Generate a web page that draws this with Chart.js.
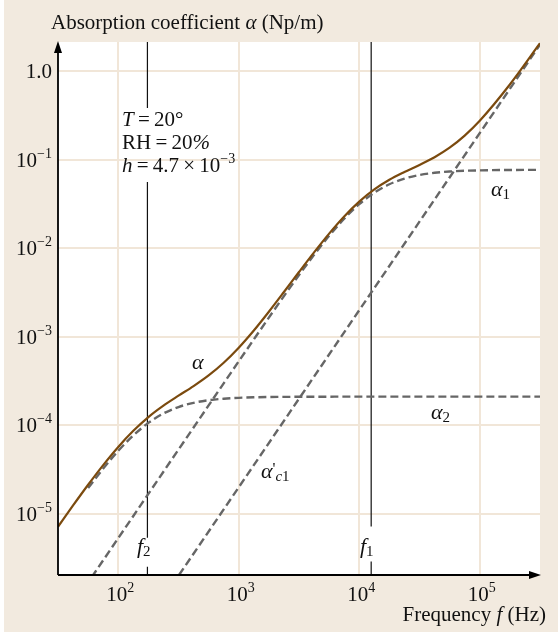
<!DOCTYPE html>
<html><head><meta charset="utf-8">
<script src="https://cdn.jsdelivr.net/npm/chart.js@4.4.0/dist/chart.umd.min.js"></script>
<style>
html,body{margin:0;padding:0;background:#fff;overflow:hidden;}
canvas{display:block;}
</style></head><body>
<canvas id="c" width="558" height="633" style="width:558px;height:633px"></canvas>
<script>
// ---- data ----
const freqHz = [31.62, 42.17, 56.23, 74.99, 100, 133.4, 177.8, 237.1, 316.2, 421.7, 562.3, 749.9,
  1000, 1334, 1778, 2371, 3162, 4217, 5623, 7499, 10000, 13340, 17780, 23710, 31620, 42170,
  56230, 74990, 100000, 177800, 316200];
const totalAlpha = [7.16e-6, 1.245e-5, 2.133e-5, 3.56e-5, 5.71e-5, 8.68e-5, 1.242e-4, 1.673e-4,
  2.165e-4, 2.779e-4, 3.666e-4, 5.10e-4, 7.54e-4, 1.179e-3, 1.921e-3, 3.206e-3, 5.394e-3,
  8.996e-3, 0.01466, 0.0229, 0.03369, 0.04623, 0.05936, 0.07268, 0.08744, 0.1069, 0.1369,
  0.1875, 0.2756, 0.7079, 2.072];
const alpha1 = [5.33e-7, 9.47e-7, 1.685e-6, 2.995e-6, 5.33e-6, 9.47e-6, 1.685e-5, 2.995e-5,
  5.33e-5, 9.46e-5, 1.681e-4, 2.984e-4, 5.291e-4, 9.36e-4, 1.649e-3, 2.884e-3, 4.984e-3,
  8.43e-3, 0.01382, 0.02157, 0.03148, 0.04247, 0.05284, 0.06125, 0.06728, 0.07121, 0.07363,
  0.07507, 0.0759, 0.07665, 0.07685];
const alpha2 = [null, null, 1.958e-5, 3.249e-5, 5.159e-5, 7.70e-5, 1.067e-4, 1.362e-4,
  1.612e-4, 1.798e-4, 1.922e-4, 2.0e-4, 2.047e-4, 2.074e-4, 2.09e-4, 2.098e-4, 2.104e-4,
  2.107e-4, 2.109e-4, 2.11e-4, 2.11e-4, 2.11e-4, 2.11e-4, 2.11e-4, 2.11e-4, 2.11e-4, 2.11e-4,
  2.11e-4, 2.11e-4, 2.11e-4, 2.11e-4];
const classicalFreq = [100, 316200];
const classicalAlpha = [2.0e-7, 2.0];
const f2Freq = 174.6;
const f1Freq = 12560;
const f2Segments = [[2.2, 0.384], [0.0561, 5.37e-6], [2.53e-6, 2.0e-6]];
const f1Segments = [[2.2, 7.19e-6], [2.9e-6, 2.0e-6]];
const xTickValues = [100, 1000, 10000, 100000];
const xTickExp = ['2', '3', '4', '5'];
const yTickValues = [1, 0.1, 0.01, 0.001, 0.0001, 0.00001];
const yTickLabels = [['1.0', ''], ['10', '−1'], ['10', '−2'], ['10', '−3'], ['10', '−4'], ['10', '−5']];
const XMIN = 31.62, XMAX = 316228;
const YMIN = Math.pow(10, -5.69), YMAX = Math.pow(10, 0.33);

// ---- styles ----
const BEIGE = '#f2eadf', GRID = '#f1e6d8', BROWN = '#7b4a0e', DASH = '#666666';
const SERIF = '"Liberation Serif", "Times New Roman", serif';

function segData(fx, segs) {
  const out = [];
  segs.forEach((s, i) => {
    if (i > 0) out.push({x: fx, y: null});
    out.push({x: fx, y: s[0]}, {x: fx, y: s[1]});
  });
  return out;
}

const datasets = [
  {data: freqHz.map((f, i) => ({x: f, y: totalAlpha[i]})), borderColor: BROWN, borderWidth: 2.2,
   pointRadius: 0, cubicInterpolationMode: 'monotone'},
  {data: freqHz.map((f, i) => ({x: f, y: alpha1[i]})), borderColor: DASH, borderWidth: 2.4,
   borderDash: [8, 4], pointRadius: 0, cubicInterpolationMode: 'monotone'},
  {data: freqHz.map((f, i) => ({x: f, y: alpha2[i]})), borderColor: DASH, borderWidth: 2.4,
   borderDash: [8, 4], pointRadius: 0, cubicInterpolationMode: 'monotone'},
  {data: classicalFreq.map((f, i) => ({x: f, y: classicalAlpha[i]})), borderColor: DASH, borderWidth: 2.4,
   borderDash: [8, 4], pointRadius: 0, tension: 0},
  {data: segData(f2Freq, f2Segments), borderColor: '#111', borderWidth: 1.2, pointRadius: 0, tension: 0},
  {data: segData(f1Freq, f1Segments), borderColor: '#111', borderWidth: 1.2, pointRadius: 0, tension: 0}
];

function rich(ctx, x, y, parts, align) {
  let w = 0;
  parts.forEach(p => { ctx.font = (p.i ? 'italic ' : '') + p.s + 'px ' + SERIF; w += ctx.measureText(p.t).width; });
  let cx = align === 'right' ? x - w : align === 'center' ? x - w / 2 : x;
  ctx.textAlign = 'left'; ctx.textBaseline = 'alphabetic';
  parts.forEach(p => {
    ctx.font = (p.i ? 'italic ' : '') + p.s + 'px ' + SERIF;
    ctx.fillText(p.t, cx, y + (p.dy || 0));
    cx += ctx.measureText(p.t).width;
  });
}

const bgPlugin = {
  id: 'bg',
  beforeDraw(chart) {
    const ctx = chart.ctx, a = chart.chartArea;
    ctx.save();
    ctx.fillStyle = '#fff'; ctx.fillRect(0, 0, chart.width, chart.height);
    ctx.fillStyle = BEIGE; ctx.fillRect(4, 0, chart.width - 4, chart.height - 1);
    ctx.fillStyle = '#fff'; ctx.fillRect(a.left, a.top, a.right - a.left, a.bottom - a.top);
    ctx.restore();
  }
};

const overlayPlugin = {
  id: 'overlay',
  afterDraw(chart) {
    const ctx = chart.ctx, a = chart.chartArea, xs = chart.scales.x, ys = chart.scales.y;
    ctx.save();
    ctx.strokeStyle = '#000'; ctx.lineWidth = 1.8;
    ctx.beginPath();
    ctx.moveTo(a.left, a.bottom); ctx.lineTo(a.left, a.top + 8);
    ctx.moveTo(a.left, a.bottom); ctx.lineTo(a.right - 8, a.bottom);
    ctx.stroke();
    ctx.fillStyle = '#000';
    ctx.beginPath();
    ctx.moveTo(a.left, a.top - 1); ctx.lineTo(a.left - 4, a.top + 11); ctx.lineTo(a.left + 4, a.top + 11); ctx.closePath();
    ctx.fill();
    ctx.beginPath();
    ctx.moveTo(a.right + 1, a.bottom); ctx.lineTo(a.right - 11, a.bottom - 4); ctx.lineTo(a.right - 11, a.bottom + 4); ctx.closePath();
    ctx.fill();
    ctx.fillStyle = '#111';
    yTickValues.forEach((v, i) => {
      const py = ys.getPixelForValue(v);
      const lab = yTickLabels[i];
      if (lab[1]) rich(ctx, 52, py + 7, [{t: lab[0], s: 21}, {t: lab[1], s: 14, dy: -9}], 'right');
      else rich(ctx, 52, py + 7, [{t: lab[0], s: 21}], 'right');
    });
    xTickValues.forEach((v, i) => {
      const px = xs.getPixelForValue(v);
      rich(ctx, px + 2, 601, [{t: '10', s: 21}, {t: xTickExp[i], s: 14, dy: -9}], 'center');
    });
    rich(ctx, 51, 29, [{t: 'Absorption coefficient ', s: 21}, {t: 'α', s: 21, i: true}, {t: ' (Np/m)', s: 21}], 'left');
    rich(ctx, 546, 621, [{t: 'Frequency ', s: 21}, {t: 'f', s: 21, i: true}, {t: ' (Hz)', s: 21}], 'right');
    const th = '\u2009';
    rich(ctx, 122, 126, [{t: 'T', s: 21, i: true}, {t: th + '=' + th + '20°', s: 21}], 'left');
    rich(ctx, 122, 149, [{t: 'RH' + th + '=' + th + '20', s: 21}, {t: '%', s: 21, i: true}], 'left');
    rich(ctx, 122, 172, [{t: 'h', s: 21, i: true}, {t: th + '=' + th + '4.7' + th + '×' + th + '10', s: 21}, {t: '−3', s: 14, dy: -9}], 'left');
    rich(ctx, 192, 369, [{t: 'α', s: 22, i: true}], 'left');
    rich(ctx, 491, 196, [{t: 'α', s: 22, i: true}, {t: '1', s: 15, dy: 3}], 'left');
    rich(ctx, 431, 419, [{t: 'α', s: 22, i: true}, {t: '2', s: 15, dy: 3}], 'left');
    rich(ctx, 261, 478, [{t: 'α', s: 22, i: true}, {t: "'", s: 16, dy: -4}, {t: 'c', s: 15, i: true, dy: 3}, {t: '1', s: 15, dy: 3}], 'left');
    rich(ctx, 137, 553, [{t: 'f', s: 22, i: true}, {t: '2', s: 15, dy: 3}], 'left');
    rich(ctx, 360, 553, [{t: 'f', s: 22, i: true}, {t: '1', s: 15, dy: 3}], 'left');
    ctx.restore();
  }
};

new Chart(document.getElementById('c').getContext('2d'), {
  type: 'line',
  data: {datasets},
  options: {
    responsive: false, animation: false, devicePixelRatio: 1,
    layout: {padding: {left: 58, right: 18, top: 42, bottom: 58}},
    plugins: {legend: {display: false}, tooltip: {enabled: false}},
    scales: {
      x: {type: 'logarithmic', min: XMIN, max: XMAX,
          afterBuildTicks: s => { s.ticks = xTickValues.map(v => ({value: v})); },
          ticks: {display: false}, grid: {color: GRID, lineWidth: 2, drawTicks: false}, border: {display: false}},
      y: {type: 'logarithmic', min: YMIN, max: YMAX,
          afterBuildTicks: s => { s.ticks = yTickValues.map(v => ({value: v})); },
          ticks: {display: false}, grid: {color: GRID, lineWidth: 2, drawTicks: false}, border: {display: false}}
    }
  },
  plugins: [bgPlugin, overlayPlugin]
});
</script>
</body></html>
